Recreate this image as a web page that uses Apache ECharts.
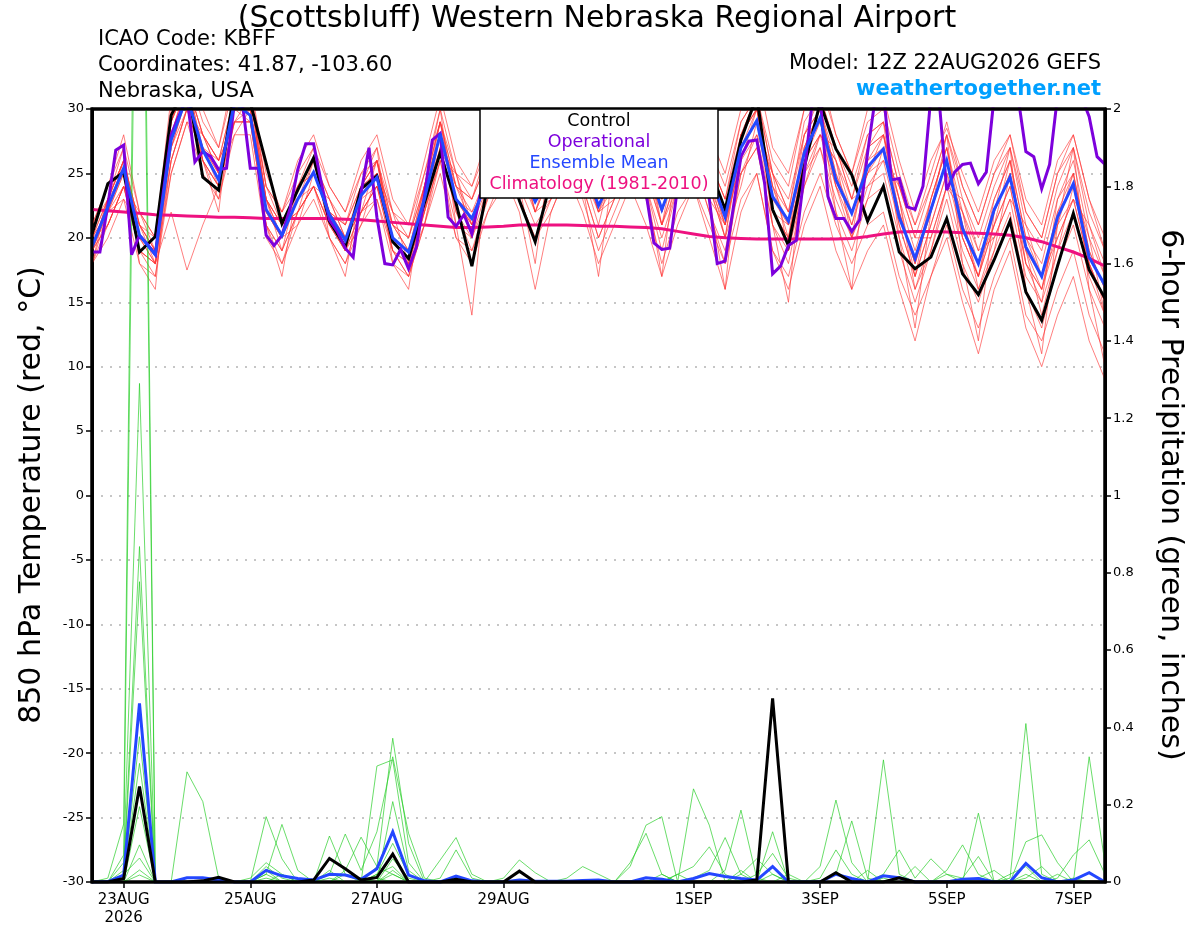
<!DOCTYPE html>
<html><head><meta charset="utf-8">
<script src="https://cdn.jsdelivr.net/npm/echarts@6.0.0/dist/echarts.min.js"></script>
<style>html,body{margin:0;padding:0;background:#fff}#c{width:1200px;height:927px}</style>
</head><body><div id="c"></div>
<script>
// ---- axis labels (hours after 12Z 22AUG2026) ----
const xLabelHours = [12, 60, 108, 156, 228, 276, 324, 372];
const xLabelTexts = ['23AUG\n2026', '25AUG', '27AUG', '29AUG', '1SEP', '3SEP', '5SEP', '7SEP'];

// ---- 6-hourly temperature (°C) ----
const control = [20.3,24.2,25.1,18.9,20.1,29.5,32,24.7,23.7,31.5,
 30.5,25.8,21.1,23.7,26.2,21.3,19.3,23.8,24.8,19.7,
 18.4,22.7,26.6,22.7,17.8,24,27,22.9,19.7,24.5,
 28,26,23.5,25.5,28.5,26,23.5,26,28.5,25.5,
 22.2,27.6,31,22.2,19.4,25.5,30.5,26.9,24.9,21.3,
 24.0,18.9,17.6,18.5,21.5,17.2,15.6,18.3,21.3,15.8,
 13.6,17.8,21.9,17.5,15.3];
const ensMean = [19.3,22.4,25.4,20.2,18.7,27.6,31,26.8,24.5,30.5,
 29.5,22.2,20.2,23.0,25.1,21.8,19.8,23.3,24.7,20.0,
 18.9,23.0,28.1,23.0,21.5,24.5,27,25.5,22.8,25,
 28,26,22.5,25,28,26,22.2,25.5,28,25,
 21.6,27,29.1,23.2,21.3,26.6,29.3,24.5,21.9,25.5,
 26.9,21.6,18.4,22.2,26.0,20.7,18.0,22.2,24.7,19.3,
 17.0,21.6,24.2,18.5,16.3];
const climatology = [22.2,22.1,22.0,21.9,21.8,21.75,21.7,21.65,21.6,21.6,
 21.55,21.5,21.5,21.5,21.5,21.5,21.45,21.4,21.3,21.2,
 21.1,21.0,20.9,20.8,20.8,20.85,20.9,21.0,21.0,21.0,
 21.0,20.95,20.9,20.9,20.85,20.8,20.7,20.5,20.3,20.1,
 20.0,19.95,19.9,19.9,19.9,19.9,19.9,19.9,19.95,20.1,
 20.3,20.45,20.5,20.5,20.45,20.4,20.35,20.3,20.2,20.0,
 19.7,19.3,18.9,18.4,17.8];
// ---- 3-hourly operational temperature (°C) ----
const operational = [18.9,18.9,22.5,26.8,27.2,18.7,20.2,19.5,18.7,23.5,
 28,29.5,31,25.9,26.7,26.3,25.3,25.4,30.5,30.5,
 25.4,25.4,20.2,19.4,20.2,22.2,25.3,27.3,27.3,24.2,
 21.4,20.5,19.2,18.5,23.5,27.0,21.6,18.0,17.9,19.1,
 17.6,19.3,23.2,27.6,28.1,21.6,20.9,21.8,20.3,23.2,
 25,27,26,24,25.5,27.5,28,26,24.5,25.5,
 27,28,27.5,26,25,26,27.5,28.5,27,25,
 23.5,19.6,19.1,19.2,24,27.5,28.5,27,23,18.0,
 18.2,22.2,26.3,27.5,27.6,24.2,17.2,17.8,19.4,19.8,
 25,30.5,31,23.2,21.5,21.5,20.5,21.4,26.6,31,
 31.5,24.5,24.6,22.4,22.2,24.0,31,31,23.7,25.1,
 25.7,25.8,24.2,25.1,31,32,32,31,26.7,26.3,
 23.8,25.7,31,32,32,31,29.4,26.3,25.7];

// ---- ensemble member temperatures (6-hourly, °C) ----
const ens01 = [21,24,27,22,20,30,33,29,27,32,32, 24,22,25,27,24,22,25,27,22,21, 25,30,25,24,27,29,28,25,27,30, 28,25,27,30,28,24,28,30,27,24, 29,31,26,24,30,32,28,25,29,30, 25,21,25,29,24,21,25,28,22,20, 25,27,22,19];
const ens02 = [18,20,23,18,17,25,29,25,23,28,28, 20,18,21,23,20,18,21,23,18,17, 21,25,20,19,22,24,23,20,22,25, 23,19,22,25,23,18,22,24,21,18, 23,25,19,17,22,25,21,18,21,22, 17,14,17,21,16,13,17,20,14,12, 16,19,14,11];
const ens03 = [19,23,26,19,18,29,32,26,24,31,31, 23,19,24,26,21,19,24,26,19,18, 24,29,22,20,26,28,25,22,26,29, 25,21,26,29,25,21,27,29,24,20, 28,30,22,20,28,30,24,20,27,28, 21,17,23,27,20,17,23,26,18,15, 23,25,18,14];
const ens04 = [20,21,24,22,19,26,30,28,26,29,31, 24,21,22,24,23,20,22,24,21,19, 22,26,25,21,24,26,27,24,24,27, 27,24,24,27,27,23,25,27,26,23, 25,28,25,22,25,28,27,23,24,26, 24,20,20,24,23,19,20,23,21,17, 20,23,21,17];
const ens05 = [18,23,27,18,16,29,33,26,22,32,32, 21,17,24,27,20,17,24,27,18,16, 24,30,21,14,26,30,24,18,27,31, 24,17,26,31,24,17,27,31,23,16, 28,31,21,15,27,30,22,16,27,29, 20,13,22,28,18,12,22,27,16,11, 21,27,16,10];
const ens06 = [20,22,25,21,19,27,31,27,25,30,29, 23,21,23,25,22,21,24,25,21,20, 24,28,24,23,26,28,26,24,26,29, 27,24,26,29,27,23,27,29,26,23, 28,31,25,23,28,31,27,24,28,29, 24,21,24,28,24,21,25,27,22,20, 25,28,23,20];
const ens07 = [19,21,24,20,18,22,17.5,21,24,29,29, 21,19,22,24,21,19,22,24,19,18, 22,26,21,20,23,25,23,20,23,26, 24,20,23,26,24,19,24,26,22,18, 25,27,21,19,25,27,23,20,24,25, 20,16,20,24,19,16,20,23,17,15, 19,22,17,14];
const ens08 = [19,22,26,21,19,28,32,28,25,30,30, 22,20,23,26,22,20,23,26,20,19, 23,29,24,22,25,28,27,23,26,28, 26,22,25,28,26,21,25,27,24,20, 27,29,22,20,26,29,24,21,25,27, 22,18,23,27,21,17,21,24,18,16, 20,23,18,15];
const ens09 = [18,21,24,19,18,27,30,26,24,29,29, 21,19,22,24,21,19,22,23,19,17, 21,26,20,18,22,25,22,16,22,25, 22,18,21,24,21,17,21,24,20,16, 22,25,19,16,21,24,19,16,19,21, 16,12,17,20,15,11,16,19,13,10, 14,17,12,9];
const ens10 = [21,24,28,22,20,31,33,30,27,33,32, 25,22,26,28,24,22,26,28,23,21, 26,31,26,24,28,31,29,26,29,32, 29,26,28,32,29,25,29,32,28,25, 30,33,27,25,30,33,28,25,30,31, 26,22,26,28.5,25,22,26,28,23,21, 26,28,23,19];
const ens11 = [19,23,25,20,18,28,31,27,24,31,30, 22,20,24,25,22,19,24,25,20,19, 24,28,23,21,25,27,26,22,25,28, 26,22,26,28,25,22,26,28,25,21, 28,30,23,21,27,30,25,21,26,27, 22,18,22,26,20,17,22,25,19,16, 22,24,18,15];
const ens12 = [20,22,24,19,18,26,30,27,26,29,30, 23,21,22,26,23,20,22,26,21,19, 23,27,24,21,26,26,27,22,25,29, 25,23,25,27,27,22,26,28,23,21, 26,30,24,20,26,28,26,22,25,28, 23,17,21,25,22,18,21,26,20,17, 21,25,19,16];
const ens13 = [18,22,25,20,19,27,31,26,24,30,30, 22,20,23,24,21,20,23,24,20,18, 22,28,23,22,24,27,25,23,24,27, 25,22,24,27,25,21,25,27,24,21, 26,28,22,21,26,28,24,22,25,26, 21,17,21,25,20,17,21,24,18,16, 21,23,18,15];
const ens14 = [20,23,26,21,19,29,32,28,26,31,31, 23,21,24,26,22,21,24,26,21,20, 24,29,24,23,26,28,27,24,26,29, 27,24,26,29,27,23,27,29,26,22, 28,30,24,22,28,30,26,23,27,28, 23,19,23,27,22,19,23,26,20,18, 23,26,20,17];
const ens15 = [20,23,26,20,19,28,32,27,25,31,31, 23,20,24,25,22,20,24,26,20,19, 24,29,23,21,26,28,26,23,26,29, 26,23,25,28,26,22,26,29,25,21, 27,30,24,21,27,30,25,22,26,28, 22,18,22,26,21,18,22,25,19,17, 22,25,19,16];
const ens16 = [19,21,24,19,17,26,30,26,23,29,29, 21,18,22,24,20,18,22,24,19,17, 22,27,22,19,23,26,24,21,23,27, 24,20,23,26,24,20,24,26,22,19, 25,27,21,18,24,27,22,19,23,24, 19,15,19,23,18,15,19,22,16,13, 18,21,16,13];
const ens17 = [21,23,26,21,20,29,32,28,26,31,31, 24,22,24,26,23,21,25,26,22,20, 25,29,25,23,27,29,27,25,27,30, 28,25,27,30,28,24,28,30,26,23, 29,31,25,22,29,31,27,23,28,29, 24,20,24,28,23,20,24,27,21,19, 24,27,21,18];
const ens18 = [19,22,23,21,18,25,29,28,25,28,30, 23,20,21,25,22,19,21,25,22,18, 21,27,25,20,24,25,27,22,23,28, 27,22,23,27,27,21,24,28,25,20, 24,29,25,19,24,28,26,20,23,27, 23,16,19,24,22,16,19,25,19,14, 19,24,20,14];

// ---- 6-hour precipitation (inches) ----
const pcpMean = [0,0.001,0.018,0.462,0, 0,0.011,0.011,0.005,0, 0,0.030,0.016,0.009,0.005, 0.020,0.018,0.007,0.034,0.130, 0.018,0.003,0,0.015,0.003, 0,0,0.005,0.002,0.002, 0.002,0.004,0.005,0,0, 0.011,0.007,0,0.009,0.022, 0.014,0.009,0.005,0.040,0, 0,0,0.020,0.009,0, 0.016,0.011,0,0,0, 0.007,0.009,0,0,0.048, 0.011,0,0.005,0.024,0];
const pcpControl = [0,0,0.009,0.247,0, 0,0,0.003,0.012,0, 0,0,0,0,0.005, 0.061,0.034,0.005,0.012,0.072, 0,0,0,0.007,0, 0,0,0.028,0,0, 0,0,0,0,0, 0,0,0,0,0, 0,0,0.005,0.475,0, 0,0,0.024,0,0, 0,0.011,0,0,0, 0,0,0,0,0, 0,0,0,0,0];
const pcp01 = [0,0.01,0.15,3.6,0, 0,0,0,0,0, 0,0,0,0,0, 0,0,0,0.30,0.316, 0.05,0,0,0,0, 0,0,0,0,0, 0,0,0,0,0, 0,0,0,0,0, 0,0,0,0.13,0, 0,0,0,0,0, 0,0,0,0,0, 0,0,0,0,0.104, 0.122,0.05,0,0,0];
const pcp02 = [0,0,0.07,3.3,0, 0,0.285,0.208,0.01,0, 0,0,0,0,0, 0,0,0,0,0, 0,0,0,0,0, 0,0,0,0,0, 0,0,0,0,0, 0,0,0,0.241,0.147, 0,0,0,0,0, 0,0,0,0,0, 0,0,0,0,0, 0,0.178,0,0,0, 0,0,0,0,0];
const pcp03 = [0,0,0.05,1.29,0, 0,0,0,0,0, 0,0.169,0.06,0,0, 0,0,0,0.04,0.372, 0.1,0,0,0,0, 0,0,0,0,0, 0,0,0,0,0, 0,0,0,0,0, 0,0,0,0,0, 0,0,0,0,0, 0.316,0.02,0,0,0, 0,0,0,0,0, 0,0,0,0.324,0.048];
const pcp04 = [0,0,0.03,0.868,0, 0,0,0,0,0, 0,0.02,0.149,0.03,0, 0.119,0.02,0,0,0.208, 0.03,0,0,0,0, 0,0,0,0,0, 0,0,0,0,0.04, 0.147,0.169,0,0,0, 0,0,0,0,0, 0,0,0,0,0, 0,0,0,0,0, 0,0,0,0.01,0.41, 0.02,0,0,0,0];
const pcp05 = [0,0,0.02,0.777,0, 0,0,0,0,0, 0,0,0,0,0, 0.02,0.124,0.03,0.13,0.324, 0.126,0.01,0,0,0, 0,0,0,0,0, 0,0,0,0,0, 0,0,0,0,0, 0.03,0.186,0.01,0,0, 0,0.04,0.212,0.05,0, 0,0,0,0,0, 0,0,0,0,0, 0,0,0,0,0];
const pcp06 = [0,0,0.01,0.376,0, 0,0,0,0,0, 0.01,0.05,0.02,0,0, 0,0.03,0.116,0.04,0.02, 0,0,0.057,0.115,0.02, 0,0,0,0,0, 0,0,0,0,0, 0,0,0,0.01,0.03, 0.115,0.02,0,0,0, 0,0,0.02,0.158,0.01, 0,0,0,0,0.03, 0.096,0.02,0,0,0, 0,0,0,0,0];
const pcp07 = [0,0,0.01,0.307,0, 0,0,0,0,0, 0,0.04,0.01,0,0, 0.03,0,0,0.02,0.1, 0.02,0,0.01,0.083,0.01, 0,0,0,0,0, 0,0,0,0,0, 0,0,0.02,0.04,0.091, 0.02,0,0.02,0.074,0.01, 0,0,0,0,0, 0,0,0,0,0, 0,0,0,0,0, 0,0.01,0.07,0.109,0.02];
const pcp08 = [0,0,0,0.195,0, 0,0,0,0,0, 0,0.03,0,0,0, 0,0.02,0.01,0,0.06, 0.01,0,0,0,0, 0,0.01,0.057,0.024,0, 0,0,0,0,0.05, 0.126,0.02,0,0,0, 0,0,0,0,0, 0,0.01,0.083,0.02,0, 0,0,0,0,0, 0,0.01,0.03,0,0.01, 0.04,0,0,0,0];
const pcp09 = [0,0,0,0.096,0, 0,0,0,0,0, 0,0,0.02,0,0, 0,0,0,0.02,0.04, 0,0,0,0,0, 0,0,0,0,0, 0.01,0.04,0.02,0,0, 0,0,0,0,0, 0,0.02,0.06,0.02,0, 0,0,0,0,0, 0.02,0.083,0.01,0.06,0.02, 0.01,0.066,0,0,0, 0,0,0,0,0];
const pcp10 = [0,0,0.02,0.062,0, 0,0,0,0,0, 0,0.02,0,0,0, 0,0,0,0,0.03, 0,0,0,0,0, 0,0,0,0,0, 0,0,0,0,0, 0,0,0.02,0,0, 0,0,0,0.02,0, 0,0,0,0,0, 0,0,0.04,0,0, 0,0,0,0.02,0.04, 0,0,0,0,0];
const pcp11 = [0,0,0,0.031,0, 0,0,0,0,0, 0,0,0,0,0, 0.01,0,0,0,0.02, 0,0,0,0,0, 0,0,0,0,0, 0,0,0,0,0, 0,0,0,0,0, 0,0.03,0,0,0.02, 0,0,0,0,0.03, 0,0,0,0,0.02, 0,0,0,0,0, 0,0.02,0,0,0];
const pcp12 = [0,0,0,0.018,0, 0,0,0,0,0, 0,0.01,0,0,0, 0,0,0,0.01,0, 0,0,0,0,0, 0,0,0,0,0, 0,0,0,0,0, 0,0.02,0,0,0, 0,0,0,0,0, 0,0,0,0,0, 0.01,0,0,0,0, 0,0,0,0,0.02, 0,0,0.01,0,0];

const tempMembers = [ens01,ens02,ens03,ens04,ens05,ens06,ens07,ens08,ens09,ens10,ens11,ens12,ens13,ens14,ens15,ens16,ens17,ens18];
const pcpMembers = [pcp01,pcp02,pcp03,pcp04,pcp05,pcp06,pcp07,pcp08,pcp09,pcp10,pcp11,pcp12];

const FONT = 'DejaVu Sans';
const six = arr => arr.map((v, i) => [i * 6, v]);
const three = arr => arr.map((v, i) => [i * 3, v]);
const base = {type: 'line', symbol: 'none', showSymbol: false, silent: true, clip: true, animation: false};

const series = [];
tempMembers.forEach((m, k) => series.push(Object.assign({}, base, {
  name: 'member' + (k + 1), yAxisIndex: 0, z: 2, data: six(m),
  lineStyle: {color: '#ff3535', width: 0.8, opacity: 0.8}
})));
pcpMembers.forEach((m, k) => series.push(Object.assign({}, base, {
  name: 'pcp member' + (k + 1), yAxisIndex: 1, z: 3, data: six(m),
  lineStyle: {color: '#22cc22', width: 0.8, opacity: 0.85}
})));
const thick = (color) => ({color: color, width: 3, join: 'miter', miterLimit: 4});
series.push(Object.assign({}, base, {name: 'Climatology (1981-2010)', yAxisIndex: 0, z: 4, data: six(climatology), lineStyle: thick('#ee1180')}));
series.push(Object.assign({}, base, {name: 'Mean precip', yAxisIndex: 1, z: 5, data: six(pcpMean), lineStyle: thick('#2447ff')}));
series.push(Object.assign({}, base, {name: 'Control precip', yAxisIndex: 1, z: 6, data: six(pcpControl), lineStyle: thick('#000000')}));
series.push(Object.assign({}, base, {name: 'Control', yAxisIndex: 0, z: 7, data: six(control), lineStyle: thick('#000000')}));
series.push(Object.assign({}, base, {name: 'Operational', yAxisIndex: 0, z: 8, data: three(operational), lineStyle: thick('#7d00dc')}));
series.push(Object.assign({}, base, {name: 'Ensemble Mean', yAxisIndex: 0, z: 9, data: six(ensMean), lineStyle: thick('#2447ff')}));

const legendLines = [
  ['Control', '#000000'], ['Operational', '#7d00dc'], ['Ensemble Mean', '#2447ff'], ['Climatology (1981-2010)', '#ee1180']
];

const chart = echarts.init(document.getElementById('c'), null, {renderer: 'canvas'});
chart.setOption({
  animation: false,
  backgroundColor: '#ffffff',
  grid: {left: 92, right: 95, top: 109, bottom: 45, show: true, borderColor: '#000', borderWidth: 3, backgroundColor: '#fff'},
  xAxis: {
    type: 'value', min: 0, max: 384, position: 'bottom',
    axisLine: {show: false, onZero: false},
    splitLine: {show: false},
    axisTick: {show: true, customValues: xLabelHours, length: 6, lineStyle: {color: '#000', width: 1.5}},
    axisLabel: {
      customValues: xLabelHours, margin: 9, color: '#000', fontFamily: FONT, fontSize: 15, lineHeight: 18,
      formatter: v => xLabelTexts[xLabelHours.indexOf(v)] || ''
    }
  },
  yAxis: [{
    type: 'value', min: -30, max: 30, interval: 5, position: 'left',
    axisLine: {show: true, lineStyle: {color: '#000', width: 3}},
    axisTick: {show: true, length: 6, lineStyle: {color: '#000', width: 1.5}},
    axisLabel: {color: '#000', fontFamily: FONT, fontSize: 13, margin: 8},
    splitLine: {show: true, lineStyle: {color: '#b4b4b4', width: 1.5, type: [2, 7]}}
  }, {
    type: 'value', min: 0, max: 2, interval: 0.2, position: 'right',
    axisLine: {show: true, lineStyle: {color: '#000', width: 3}},
    axisTick: {show: true, length: 6, lineStyle: {color: '#000', width: 1.5}},
    axisLabel: {color: '#000', fontFamily: FONT, fontSize: 13, margin: 8},
    splitLine: {show: false}
  }],
  series: series,
  graphic: [
    {type: 'rect', z: 99, silent: true, shape: {x: 92, y: 109, width: 1013, height: 773}, style: {fill: 'none', stroke: '#000', lineWidth: 3}},
    {type: 'text', x: 597, y: 19, z: 100, style: {text: '(Scottsbluff) Western Nebraska Regional Airport', fill: '#000', fontFamily: FONT, fontSize: 30, textAlign: 'center', textVerticalAlign: 'middle'}},
    {type: 'text', x: 98, y: 40, z: 100, style: {text: 'ICAO Code: KBFF', fill: '#000', fontFamily: FONT, fontSize: 21, textAlign: 'left', textVerticalAlign: 'middle'}},
    {type: 'text', x: 98, y: 66, z: 100, style: {text: 'Coordinates: 41.87, -103.60', fill: '#000', fontFamily: FONT, fontSize: 21, textAlign: 'left', textVerticalAlign: 'middle'}},
    {type: 'text', x: 98, y: 92, z: 100, style: {text: 'Nebraska, USA', fill: '#000', fontFamily: FONT, fontSize: 21, textAlign: 'left', textVerticalAlign: 'middle'}},
    {type: 'text', x: 1101, y: 64, z: 100, style: {text: 'Model: 12Z 22AUG2026 GEFS', fill: '#000', fontFamily: FONT, fontSize: 21, textAlign: 'right', textVerticalAlign: 'middle'}},
    {type: 'text', x: 1101, y: 90, z: 100, style: {text: 'weathertogether.net', fill: '#00a0ff', fontFamily: FONT, fontWeight: 'bold', fontSize: 21, textAlign: 'right', textVerticalAlign: 'middle'}},
    {type: 'text', x: 32, y: 495, rotation: Math.PI / 2, z: 100, style: {text: '850 hPa Temperature (red, °C)', fill: '#000', fontFamily: FONT, fontSize: 30, textAlign: 'center', textVerticalAlign: 'middle'}},
    {type: 'text', x: 1170, y: 495, rotation: -Math.PI / 2, z: 100, style: {text: '6-hour Precipitation (green, inches)', fill: '#000', fontFamily: FONT, fontSize: 30, textAlign: 'center', textVerticalAlign: 'middle'}},
    {type: 'rect', z: 100, shape: {x: 480, y: 109, width: 238, height: 89}, style: {fill: '#fff', stroke: '#000', lineWidth: 1.5}}
  ].concat(legendLines.map((l, k) => ({
    type: 'text', x: 599, y: 121 + k * 21.3, z: 101,
    style: {text: l[0], fill: l[1], fontFamily: FONT, fontSize: 17.5, textAlign: 'center', textVerticalAlign: 'middle'}
  })))
});
</script></body></html>
